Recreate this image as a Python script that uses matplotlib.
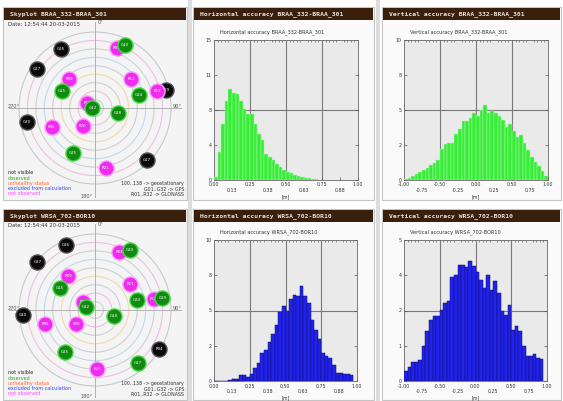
import numpy as np
import matplotlib
matplotlib.use("Agg")
import matplotlib.pyplot as plt
from matplotlib.patches import Rectangle, Circle
from matplotlib.ticker import MultipleLocator

W, H = 563, 401

# ---- skyplot data (azimuth deg, elevation deg, state) ----
sky1_names = ["G26", "G27", "R03", "G10", "R09", "R11", "G15", "R13", "G29", "G24",
              "R19", "G12", "G18", "G30", "R05", "R20", "G25", "G17", "R21"]
sky1_az = [330, 304, 20, 25.5, 318, 51, 297, 75, 76, 73.5, 302, 270, 102, 258, 246, 214, 206, 135, 170]
sky1_el = [9, 7, 15, 7, 44, 35, 46, 14, 3, 36, 79, 87, 62, 8, 34, 64, 31, 3, 18]
sky1_state = ["nv", "nv", "no", "ob", "no", "no", "ob", "no", "nv", "ob",
              "no", "ob", "ob", "nv", "no", "no", "ob", "nv", "no"]

sky2_names = ["G26", "G27", "R03", "G10", "R09", "R11", "G15", "R13", "G29", "G24",
              "R19", "G12", "G18", "G30", "R05", "R20", "G25", "R04", "G17", "R21"]
sky2_az = [336, 310, 23, 30, 322, 53, 302, 79, 80, 76.5, 305, 287, 107, 266, 254, 233, 216, 121, 141, 178]
sky2_el = [6, 1, 16, 8, 39, 38, 41, 19, 9, 39, 73, 79, 67, 4, 29, 62, 29, 1, 9, 20]
sky2_state = ["nv", "nv", "no", "ob", "no", "no", "ob", "no", "ob", "ob",
              "no", "ob", "ob", "nv", "no", "no", "ob", "nv", "ob", "no"]

# ---- histogram data (bin start, bin width, counts) ----
h_braa_start, h_braa_width = 0.0, 0.025
h_braa_counts = [0.35, 3.0, 6.0, 8.5, 9.8, 9.35, 9.25, 8.5, 7.6, 7.05, 7.05, 6.0, 4.95, 4.25,
                 2.8, 2.45, 2.1, 1.7, 1.4, 1.05, 0.9, 0.7, 0.55, 0.42, 0.32, 0.25, 0.18, 0.11, 0.07]

v_braa_start, v_braa_width = -1.0, 0.05
v_braa_counts = [0.05, 0.16, 0.28, 0.42, 0.56, 0.71, 0.89, 1.06, 1.22, 1.46,
                 2.24, 2.59, 2.64, 2.64, 3.29, 3.65, 4.19, 4.24, 4.42, 4.82,
                 4.59, 4.99, 5.36, 4.82, 4.94, 4.82, 4.59, 4.28, 3.81, 4.0,
                 3.53, 3.06, 3.18, 2.64, 2.12, 1.65, 1.29, 0.99, 0.66, 0.28]

h_wrsa_start, h_wrsa_width = 0.0, 0.025
h_wrsa_counts = [0, 0, 0, 0, 0.05, 0.15, 0.15, 0.45, 0.4, 0.3,
                 0.5, 0.95, 1.3, 2.0, 2.2, 2.8, 3.3, 4.0, 4.9, 5.3,
                 5.0, 5.8, 6.1, 6.05, 6.75, 6.0, 5.5, 4.35, 3.65, 3.0,
                 2.0, 1.76, 1.6, 1.1, 0.6, 0.55, 0.47, 0.47, 0.45]

v_wrsa_start, v_wrsa_width = -1.0, 0.05
v_wrsa_counts = [0.35, 0.49, 0.67, 0.68, 0.74, 1.24, 1.76, 2.18, 2.29, 2.29,
                 2.53, 2.76, 2.82, 3.7, 3.76, 4.12, 4.12, 4.06, 4.26, 4.08,
                 3.88, 3.59, 3.29, 3.76, 3.24, 3.53, 3.12, 2.47, 2.35, 2.71,
                 1.82, 1.94, 1.76, 1.24, 0.88, 0.88, 0.94, 0.82, 0.79]

DATE = "Date: 12:54:44 20-03-2015"
LEGEND_LEFT = [("not visible", "#222222"), ("observed", "#22aa22"), ("unhealthy status", "#ff6633"),
               ("excluded from calculation", "#3344ff"), ("not observed", "#ff44ff")]
LEGEND_RIGHT = ["100..138 -> geostationary", "G01..G32 -> GPS", "R01..R32 -> GLONASS"]

STYLE = {"nv": ("#0a0a0a", "#555555"), "ob": ("#128a12", "#44dd44"), "no": ("#ee2cee", "#ff99ff")}
BROWN = "#3a1f0c"

fig = plt.figure(figsize=(W / 100, H / 100), dpi=100)
fig.patch.set_facecolor("white")


def box(x0, y0, x1, y1):
    return [x0 / W, 1 - y1 / H, (x1 - x0) / W, (y1 - y0) / H]


def frect(x0, y0, w, h, **kw):
    # rectangle in pixel coords, drawn underneath the axes
    fig.patches.append(Rectangle((x0 / W, 1 - (y0 + h) / H), w / W, h / H,
                                 transform=fig.transFigure, zorder=-5, **kw))


def panel(x0, y0, x1, y1, title, bg):
    frect(x0, y0, x1 - x0, y1 - y0, fc=bg, ec="#c4c4c4", lw=0.8)
    frect(x0 + 1, y0 + 1, x1 - x0 - 2, 12, fc=BROWN, ec="none")
    fig.text((x0 + 7) / W, 1 - (y0 + 7) / H, title, color="#e8e0d8", fontsize=4.6,
             family="DejaVu Sans Mono", fontweight="bold", va="center", ha="left")


def skyplot(x0, y0, x1, y1, cx, cy, names, az, el, state, title):
    panel(x0, y0, x1, y1, title, "#f4f4f4")
    R = 76.0
    ax = fig.add_axes(box(x0 + 1, y0 + 14, x1 - 1, y1 - 1))
    ax.set_xlim((x0 + 1 - cx) / R, (x1 - 1 - cx) / R)
    ax.set_ylim((cy - (y1 - 1)) / R, (cy - (y0 + 14)) / R)
    ax.axis("off")
    ring_cols = ["#d0d0d0", "#ecc0de", "#d0d0d0", "#f0d8b0", "#cecece",
                 "#c0d8ec", "#d0d0d0", "#ecc0de", "#c8c8c8"]
    for k in range(1, 10):
        ax.add_patch(Circle((0, 0), k / 9, fill=False, ec=ring_cols[k - 1], lw=0.8))
    ax.plot([0, 0], [(cy - (y1 - 3)) / R, (cy - (y0 + 15)) / R], color="#a8a8a8", lw=0.6)
    ax.plot([(x0 + 6 - cx) / R, (x1 - 6 - cx) / R], [0, 0], color="#a8a8a8", lw=0.6)

    az_r = np.radians(az)
    rr = (90 - np.array(el, dtype=float)) / 90
    xs, ys = rr * np.sin(az_r), rr * np.cos(az_r)
    st = np.array(state)
    for z, key in enumerate(["nv", "no", "ob"]):
        m = st == key
        fc, ec = STYLE[key]
        ax.scatter(xs[m], ys[m], s=118, c=fc, edgecolors=ec, linewidths=1.0, zorder=3 + z)
        for xx, yy, nm in zip(xs[m], ys[m], np.array(names)[m]):
            ax.text(xx, yy, nm, fontsize=2.8, color="white", ha="center", va="center", zorder=3 + z)

    def at(px, py):
        return (px - cx) / R, (cy - py) / R

    ax.text(*at(x0 + 5, y0 + 17), DATE, fontsize=3.8, color="#333333", ha="left", va="center")
    ax.text(*at(cx + 3, y0 + 16), "0°", fontsize=3.6, color="#555555", ha="left", va="center")
    ax.text(*at(x0 + 5, cy - 2), "270°", fontsize=3.6, color="#555555", ha="left", va="center")
    ax.text(*at(x1 - 5, cy - 1), "90°", fontsize=3.6, color="#555555", ha="right", va="center")
    ax.text(*at(cx - 2, y1 - 3), "180°", fontsize=3.6, color="#555555", ha="right", va="center")
    for i, (txt, col) in enumerate(LEGEND_LEFT):
        ax.text(*at(x0 + 5, y1 - 27 + 5.2 * i), txt, fontsize=3.5, color=col, ha="left", va="center")
    for i, txt in enumerate(LEGEND_RIGHT):
        ax.text(*at(x1 - 3, y1 - 16 + 5.2 * i), txt, fontsize=3.4, color="#333333", ha="right", va="center")


def histogram(x0, y0, x1, y1, ax_box, start, width, counts, ymax, xlim, xstep,
              color, edge, title, inner):
    panel(x0, y0, x1, y1, title, "#fafafa")
    ax = fig.add_axes(box(*ax_box))
    ax.set_facecolor("#eaeaea")
    left = start + width * np.arange(len(counts))
    ax.bar(left, counts, width=width, align="edge", color=color, edgecolor=edge, lw=0.35, zorder=3)
    ax.set_xlim(*xlim)
    ax.set_ylim(0, ymax)
    xt = np.arange(xlim[0], xlim[1] + xstep / 2, xstep)
    # round half up so 0.125 reads 0.13 like the original
    fmt = ["%.2f" % (np.floor(v * 100 + 0.5 + 1e-9) / 100) for v in xt]
    labels = [s if i % 2 == 0 else "\n" + s for i, s in enumerate(fmt)]
    ax.set_xticks(xt)
    ax.set_xticklabels(labels)
    yt = np.linspace(0, ymax, 5)
    ax.set_yticks(yt)
    ax.set_yticklabels([str(round(v)) for v in yt])
    ax.xaxis.set_minor_locator(MultipleLocator(width))
    ax.tick_params(which="major", direction="in", length=2.2, width=0.5, labelsize=3.4,
                   pad=1.8, right=True, colors="#555555", labelcolor="#333333")
    ax.tick_params(which="minor", direction="in", length=1.4, width=0.5, bottom=False,
                   top=True, colors="#666666")
    for v in xt[2:-1:2]:
        ax.axvline(v, color="#7a7a7a", lw=0.8, zorder=1)
    ax.axhline(ymax / 2, color="#7a7a7a", lw=0.8, zorder=1)
    for sp in ax.spines.values():
        sp.set_color("#666666")
        sp.set_linewidth(0.6)
    ax.set_xlabel("[m]", fontsize=3.4, labelpad=0.5, color="#333333")
    fig.text((ax_box[0] + 6) / W, 1 - (ax_box[1] - 8) / H, inner, fontsize=3.6,
             color="#333333", ha="left", va="center")


# window separators
frect(188, 0, 4, H, fc="#dcdcdc", ec="none")
frect(376, 0, 4, H, fc="#dcdcdc", ec="none")

skyplot(3, 7, 187, 200, 95, 108, sky1_names, sky1_az, sky1_el, sky1_state,
        "Skyplot BRAA_332-BRAA_301")
skyplot(3, 209, 187, 400, 95, 310, sky2_names, sky2_az, sky2_el, sky2_state,
        "Skyplot WRSA_702-BOR10")

histogram(193, 7, 374, 200, (214, 40, 358, 180), h_braa_start, h_braa_width, h_braa_counts,
          15, (0.0, 1.0), 0.125, "#33ee33", "#b8f0b8",
          "Horizontal accuracy BRAA_332-BRAA_301", "Horizontal accuracy BRAA_332-BRAA_301")
histogram(382, 7, 561, 200, (404, 40, 548, 180), v_braa_start, v_braa_width, v_braa_counts,
          10, (-1.0, 1.0), 0.25, "#33ee33", "#b8f0b8",
          "Vertical accuracy BRAA_332-BRAA_301", "Vertical accuracy BRAA_332-BRAA_301")
histogram(193, 209, 374, 400, (214, 240, 357, 381), h_wrsa_start, h_wrsa_width, h_wrsa_counts,
          10, (0.0, 1.0), 0.125, "#2222ee", "#10106a",
          "Horizontal accuracy WRSA_702-BOR10", "Horizontal accuracy WRSA_702-BOR10")
histogram(382, 209, 561, 400, (404, 240, 547, 381), v_wrsa_start, v_wrsa_width, v_wrsa_counts,
          5, (-1.0, 1.0), 0.25, "#2222ee", "#10106a",
          "Vertical accuracy WRSA_702-BOR10", "Vertical accuracy WRSA_702-BOR10")

fig.savefig("out.png", dpi=100, facecolor=fig.get_facecolor())
